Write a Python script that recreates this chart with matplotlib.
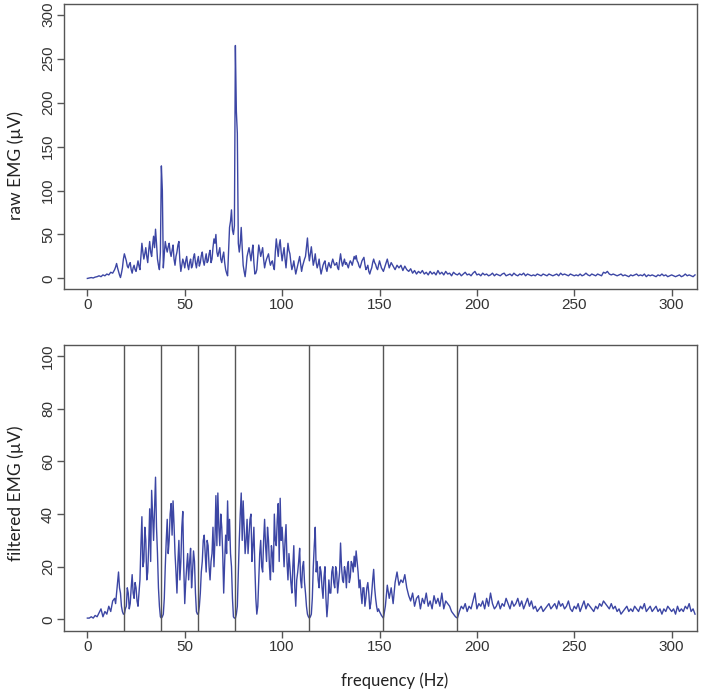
import matplotlib
matplotlib.use("Agg")
import matplotlib.pyplot as plt
import numpy as np

plt.rcParams['font.family'] = 'Liberation Sans'

# amplitude spectra, one value per Hz (0..312 Hz)
raw_emg = [
    0, 0.5, 1, 0.5, 1.5, 2, 3, 2, 4, 3,
    5, 4, 7, 6, 10, 17, 8, 1, 12, 28,
    20, 12, 18, 6, 15, 8, 20, 10, 40, 22,
    35, 18, 42, 25, 48, 56, 22, 10, 128, 12,
    42, 30, 40, 25, 38, 15, 30, 42, 8, 22,
    12, 25, 10, 22, 15, 28, 12, 25, 18, 30,
    15, 28, 20, 32, 22, 45, 50, 25, 35, 18,
    30, 10, 3, 58, 78, 50, 265, 165, 30, 58,
    15, 2, 25, 35, 20, 38, 5, 10, 38, 25,
    35, 12, 22, 28, 15, 20, 10, 45, 25, 44,
    20, 35, 12, 40, 28, 10, 20, 5, 15, 25,
    8, 18, 25, 46, 20, 36, 15, 28, 12, 22,
    5, 15, 20, 8, 18, 12, 22, 15, 18, 10,
    28, 14, 22, 18, 12, 20, 15, 25, 26, 18,
    12, 20, 24, 10, 15, 5, 12, 22, 16, 10,
    20, 12, 8, 15, 22, 12, 18, 14, 10, 15,
    12, 15, 9, 14, 10, 8, 11, 6, 9, 5,
    8, 6, 9, 5, 7, 4, 8, 5, 7, 4,
    9, 5, 7, 4, 8, 5, 6, 3, 7, 5,
    4, 6, 3, 5, 7, 4, 5, 3, 6, 8,
    4, 5, 3, 6, 4, 5, 3, 4, 6, 3,
    5, 4, 3, 5, 6, 3, 4, 5, 3, 6,
    4, 3, 5, 4, 6, 3, 5, 4, 3, 4,
    3, 5, 4, 3, 5, 4, 3, 5, 4, 3,
    4, 5, 3, 6, 4, 5, 4, 3, 5, 4,
    3, 4, 3, 5, 3, 4, 6, 4, 3, 5,
    4, 3, 5, 4, 3, 7, 6, 8, 5, 4,
    5, 4, 3, 4, 5, 3, 4, 3, 2, 4,
    3, 4, 5, 3, 4, 3, 5, 2, 4, 3,
    4, 3, 2, 4, 3, 5, 3, 4, 2, 3,
    4, 3, 2, 3, 4, 2, 3, 5, 3, 4,
    3, 2, 4,
]

# extra readings at the half-Hz bins 14.5 .. 149.5 Hz, where the trace is dense
raw_emg_half = [
    13, 12, 4, 6, 22, 24, 14, 16, 10, 12,
    10, 14, 14, 25, 30, 28, 25, 32, 30, 38,
    35, 40, 15, 30, 100, 28, 35, 36, 30, 32,
    22, 25, 38, 20, 15, 18,
    20, 15, 18, 12, 24, 18, 20, 14, 26, 20,
    22, 18, 28, 18, 35, 40, 30, 30, 22, 25,
    18, 6, 30, 65, 55, 60, 190, 40, 40, 35,
    8, 12, 30, 28, 30, 18, 6, 25, 32, 30,
    22, 18, 25, 20, 18, 14, 30, 35, 38, 30,
    28, 22, 26, 32, 18, 14, 12, 10, 20, 16,
    14, 22, 35, 30, 28, 25, 20, 18, 16, 12,
    10, 18, 12, 14, 14, 18, 18, 16, 12, 20,
    20, 18, 16, 15, 17, 18, 20, 22, 20, 14,
    16, 22, 16, 12, 8, 9, 18, 18, 12, 15,
]

filtered_emg = [
    0.5, 0.5, 1, 0.5, 1.5, 1, 2.5, 4, 1, 3,
    2, 5, 3, 7, 8, 10, 18, 10, 3, 2,
    5, 10, 6, 17, 8, 12, 5, 15, 39, 22,
    30, 18, 42, 49, 30, 54, 25, 5, 0.5, 2,
    20, 38, 30, 44, 45, 25, 10, 30, 22, 41,
    6, 20, 15, 27, 18, 22, 3, 2, 10, 22,
    32, 18, 28, 15, 25, 20, 47, 48, 28, 35,
    10, 32, 45, 38, 20, 1, 0.5, 5, 30, 48,
    45, 25, 38, 32, 40, 28, 20, 2, 15, 30,
    18, 38, 22, 30, 15, 25, 40, 28, 44, 46,
    35, 20, 36, 15, 20, 10, 28, 5, 18, 27,
    12, 22, 10, 2, 0.5, 2, 20, 35, 22, 12,
    18, 8, 20, 1, 15, 10, 20, 12, 18, 14,
    29, 15, 20, 12, 22, 16, 21, 24, 26, 18,
    15, 6, 12, 8, 14, 4, 10, 19, 8, 3,
    3, 1.5, 0.5, 5, 13, 8, 12, 6, 14, 18,
    13, 15, 14, 17, 12, 9, 7, 10, 5, 8,
    9, 4, 8, 6, 10, 5, 7, 4, 9, 6,
    8, 5, 10, 4, 7, 6, 5, 3, 2, 1,
    0.5, 3, 5, 4, 6, 3, 5, 4, 7, 10,
    4, 6, 5, 7, 4, 8, 5, 10, 6, 4,
    5, 7, 4, 6, 5, 8, 6, 4, 7, 5,
    6, 8, 5, 7, 4, 6, 8, 5, 7, 4,
    5, 3, 4, 5, 3, 4, 5, 6, 4, 5,
    6, 4, 7, 5, 6, 4, 5, 7, 4, 3,
    5, 4, 6, 3, 5, 7, 4, 6, 5, 4,
    3, 5, 4, 6, 5, 7, 6, 5, 4, 6,
    4, 5, 3, 4, 2, 3, 4, 5, 3, 4,
    3, 5, 4, 3, 5, 4, 6, 3, 4, 5,
    3, 4, 5, 3, 4, 2, 4, 3, 5, 4,
    3, 4, 2, 5, 3, 4, 3, 5, 4, 6,
    3, 4, 2,
]

filtered_emg_half = [
    6, 14, 12, 5, 2, 4, 12, 4, 12, 10,
    14, 7, 10, 28, 20, 35, 15, 28, 22, 40,
    42, 35, 12, 1, 1, 8, 30, 25, 40, 32,
    36, 18, 22, 15, 35, 20,
    14, 25, 22, 12, 26, 10, 2, 5, 18, 30,
    25, 30, 20, 22, 35, 30, 28, 35, 40, 25,
    22, 25, 30, 25, 8, 0.5, 2, 18, 40, 30,
    35, 30, 25, 38, 22, 35, 8, 5, 25, 20,
    30, 28, 35, 20, 28, 18, 30, 38, 22, 30,
    28, 30, 22, 25, 14, 20, 12, 15, 22, 15,
    20, 14, 5, 1, 1, 8, 28, 18, 15, 20,
    12, 16, 8, 6, 10, 18, 14, 20, 10, 18,
    20, 14, 18, 20, 14, 22, 18, 20, 22, 12,
    10, 12, 5, 12, 10, 6, 15, 12, 5, 4,
]

notch_freqs = [19, 38, 57, 76, 114, 152, 190]

xticks = [0, 50, 100, 150, 200, 250, 300]
raw_yticks = [0, 50, 100, 150, 200, 250, 300]
filt_yticks = [0, 20, 40, 60, 80, 100]


def merge(whole, half):
    f = np.concatenate([np.arange(len(whole)), 14.5 + np.arange(len(half))])
    v = np.concatenate([whole, half])
    order = np.argsort(f)
    return f[order], v[order]


raw_f, raw_v = merge(raw_emg, raw_emg_half)
filt_f, filt_v = merge(filtered_emg, filtered_emg_half)

line_col = '#3c46a4'
axis_col = '#555555'
tick_col = '#333333'

fig = plt.figure(figsize=(7.04, 6.97), dpi=100)
ax1 = fig.add_axes([0.0909, 0.5854, 0.8991, 0.4086])
ax2 = fig.add_axes([0.0909, 0.0947, 0.8991, 0.4103])

ax1.plot(raw_f, raw_v, color=line_col, lw=1.0)
ax1.set_ylim(-12, 312)
ax1.set_yticks(raw_yticks)

ax2.plot(filt_f, filt_v, color=line_col, lw=1.0)
for f in notch_freqs:
    ax2.axvline(f, color=axis_col, lw=1.0, zorder=3)
ax2.set_ylim(-4.4, 104.2)
ax2.set_yticks(filt_yticks)

for ax in (ax1, ax2):
    ax.set_xlim(-12, 313)
    ax.set_xticks(xticks)
    for s in ax.spines.values():
        s.set_color(axis_col)
        s.set_linewidth(1.0)
    ax.tick_params(colors=axis_col, labelcolor=tick_col, length=5, width=1,
                   pad=1.5, labelsize=11)
    ax.tick_params(axis='y', labelrotation=90)
    for lbl in ax.get_yticklabels():
        lbl.set_va('center')

fig.text(0.0227, 0.762, 'raw EMG (\u00b5V)', rotation=90, ha='center', va='center',
         fontsize=12.5, family='Lato', color='#222222')
fig.text(0.0227, 0.293, 'filtered EMG (\u00b5V)', rotation=90, ha='center', va='center',
         fontsize=12.5, family='Lato', color='#222222')
fig.text(0.561, 0.023, 'frequency (Hz)', ha='center', va='center',
         fontsize=12, family='Lato', color='#222222')

fig.savefig('out.png', dpi=100, facecolor='white')
